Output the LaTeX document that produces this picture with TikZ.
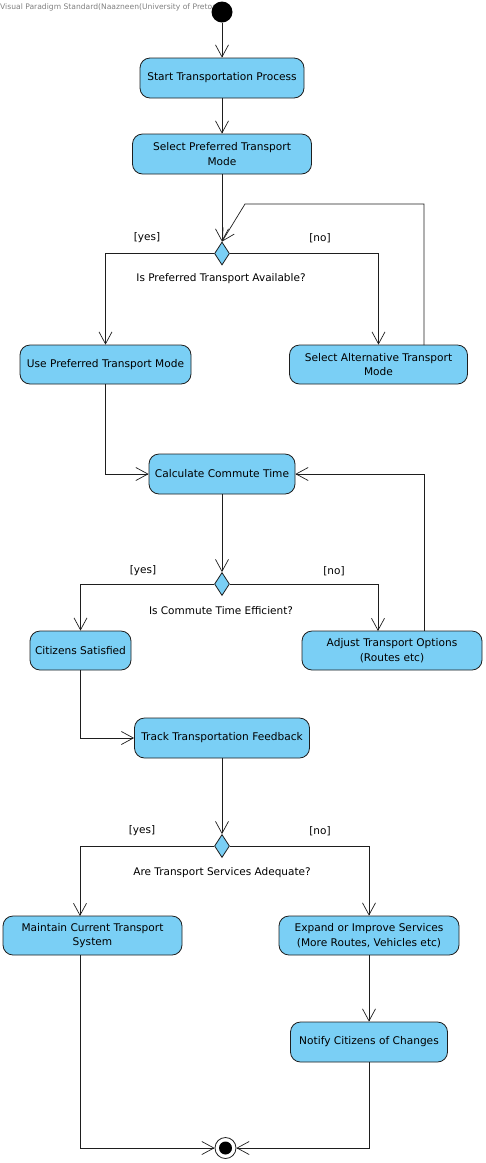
\documentclass[tikz,border=0pt]{standalone}
\usepackage{fontspec}
\setmainfont{DejaVu Sans}
\usetikzlibrary{shapes.geometric,arrows.meta}
\definecolor{actblue}{RGB}{122,207,245}
\definecolor{lineblk}{RGB}{30,30,30}
\begin{document}
\begin{tikzpicture}[x=1pt,y=-1pt,
  act/.style={draw=lineblk, fill=actblue, rounded corners=10pt, line width=0.8pt, align=center,
    font=\fontsize{10.6}{14.5}\selectfont, inner sep=2pt},
  dec/.style={diamond, draw=lineblk, fill=actblue, line width=0.8pt, minimum width=15pt,
    minimum height=23pt, inner sep=0pt},
  flow/.style={draw=lineblk, line width=0.7pt, -{Straight Barb[length=12pt,width=13pt,line width=0.7pt]}},
  lbl/.style={font=\fontsize{10.5}{12.5}\selectfont, inner sep=0pt}
]
\useasboundingbox (0,0) rectangle (486,1163);
\node[anchor=west, font=\fontsize{7.6}{8}\selectfont, text=gray, inner sep=0pt] (wm) at (0,7)
  {Visual Paradigm Standard(Naazneen(University of Pretoria))};
\node[circle, fill=black, minimum size=21pt, inner sep=0pt] (init) at (222,12) {};

\node[act, minimum width=164pt, minimum height=40pt] (start) at (222,78) {Start Transportation Process};
\node[act, minimum width=179pt, minimum height=40pt] (pref) at (222,154) {Select Preferred Transport\\Mode};
\node[dec] (d1) at (222,253.5) {};
\node[act, minimum width=171pt, minimum height=39pt] (usepref) at (105.5,364.5) {Use Preferred Transport Mode};
\node[act, minimum width=178pt, minimum height=39pt] (alt) at (378.5,364.5) {Select Alternative Transport\\Mode};
\node[act, minimum width=146pt, minimum height=40pt] (calc) at (222,474) {Calculate Commute Time};
\node[dec] (d2) at (222,584) {};
\node[act, minimum width=101pt, minimum height=39pt] (citz) at (80.5,650.5) {Citizens Satisfied};
\node[act, minimum width=180pt, minimum height=39pt] (adjust) at (392,650.5) {Adjust Transport Options\\(Routes etc)};
\node[act, minimum width=175pt, minimum height=40pt] (track) at (222,738) {Track Transportation Feedback};
\node[dec] (d3) at (222,846) {};
\node[act, minimum width=179pt, minimum height=39pt] (maintain) at (92.5,935.5) {Maintain Current Transport\\System};
\node[act, minimum width=180pt, minimum height=39pt] (expand) at (369,935.5) {Expand or Improve Services\\(More Routes, Vehicles etc)};
\node[act, minimum width=157pt, minimum height=40pt] (notify) at (369,1042) {Notify Citizens of Changes};
\node[circle, draw=lineblk, line width=0.8pt, fill=white, minimum size=21pt, inner sep=0pt] (final) at (225.5,1148) {};
\node[circle, fill=black, minimum size=13pt, inner sep=0pt] (finaldot) at (final) {};

% labels
\node[lbl] (y1) at (147,238) {[yes]};
\node[lbl] (n1) at (320,238) {[no]};
\node[lbl] (q1) at (221,279) {Is Preferred Transport Available?};
\node[lbl] (y2) at (143,571) {[yes]};
\node[lbl] (n2) at (334,571) {[no]};
\node[lbl] (q2) at (221,611) {Is Commute Time Efficient?};
\node[lbl] (y3) at (142,831) {[yes]};
\node[lbl] (n3) at (320,831) {[no]};
\node[lbl] (q3) at (222,873) {Are Transport Services Adequate?};

% coordinates
\coordinate (l1a) at (424,345);
\coordinate (l1b) at (424,204);
\coordinate (l1c) at (245,204);
\coordinate (l2a) at (424,631);
\coordinate (c3) at (378,631);
\coordinate (c4) at (80,916);
\coordinate (c5) at (80,955);

% connectors
\draw[flow] (init) -- (start);
\draw[flow] (start) -- (pref);
\draw[flow] (pref) -- (d1);
\draw[flow] (d1.west) -| (usepref.north);
\draw[flow] (d1.east) -| (alt.north);
\draw[flow] (l1a) -- (l1b) -- (l1c) -- (d1.north);
\draw[flow] (usepref.south) |- (calc.west);
\draw[flow] (l2a) |- (calc.east);
\draw[flow] (calc) -- (d2);
\draw[flow] (d2.west) -| (citz.north);
\draw[flow] (d2.east) -| (c3);
\draw[flow] (citz.south) |- (track.west);
\draw[flow] (track) -- (d3);
\draw[flow] (d3.west) -| (c4);
\draw[flow] (d3.east) -| (expand.north);
\draw[flow] (expand) -- (notify);
\draw[flow] (c5) |- (final.west);
\draw[flow] (notify.south) |- (final.east);
\end{tikzpicture}
\end{document}
